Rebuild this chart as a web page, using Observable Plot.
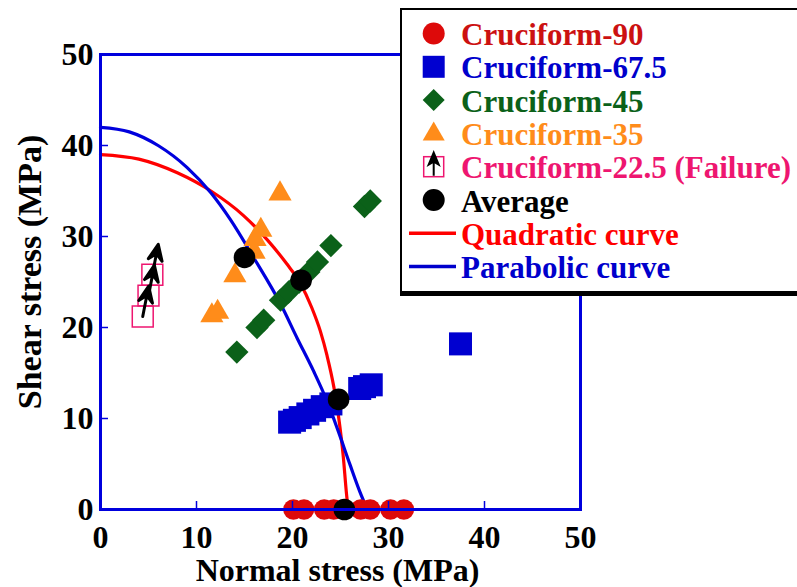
<!DOCTYPE html>
<html><head><meta charset="utf-8">
<script src="https://cdn.jsdelivr.net/npm/d3@7"></script>
<script src="https://cdn.jsdelivr.net/npm/@observablehq/plot@0.6"></script>
<style>
html,body{margin:0;padding:0;background:#fff;overflow:hidden;}
#wrap{position:relative;width:797px;height:587px;overflow:hidden;background:#fff;}
#wrap > svg.plot{position:absolute;left:0;top:0;}
#legend{position:absolute;left:400px;top:8px;width:420px;height:288px;background:#fff;border-top:2px solid #000;border-left:2px solid #000;border-bottom:5px solid #000;box-sizing:border-box;}
</style></head><body><div id="wrap"><div id="legend"></div></div>
<script>
// ---- data ----
const xTicks = [0, 10, 20, 30, 40, 50];
const yTicks = [0, 10, 20, 30, 40, 50];
const xTitle = "Normal stress (MPa)";
const yTitle = "Shear stress (MPa)";

const c90X = [20.1, 21.2, 23.3, 24.3, 27.1, 28.1, 30.2, 31.6];
const c90Y = [0, 0, 0, 0, 0, 0, 0, 0];

const c675X = [19.7, 20.2, 20.8, 21.6, 22.3, 23.1, 24.0, 27.0, 27.5, 28.2, 37.5];
const c675Y = [9.6, 9.8, 10.1, 10.5, 10.9, 11.3, 11.6, 13.3, 13.5, 13.7, 18.2];

const c45X = [14.2, 16.3, 17.0, 18.75, 19.6, 20.7, 21.7, 22.6, 24.0, 27.5, 28.1];
const c45Y = [17.3, 20.0, 20.8, 23.0, 23.9, 25.0, 26.1, 27.2, 29.0, 33.3, 33.9];

const c35X = [11.6, 12.2, 14.0, 16.0, 16.1, 16.7, 18.7];
const c35Y = [21.3, 21.7, 25.7, 28.3, 29.7, 30.7, 34.7];

const c225X = [4.4, 5.0, 5.4];
const c225Y = [21.2, 23.5, 25.8];

const avgX = [25.4, 24.8, 20.9, 15.0];
const avgY = [0, 12.1, 25.2, 27.7];

const quadX = [0, 4.0, 8.0, 11.5, 14.9, 17.4, 19.4, 20.8, 22.0, 22.9, 23.6, 24.3, 24.8, 25.3, 25.6, 25.8];
const quadY = [39.0, 38.5, 37.0, 35.0, 32.3, 29.6, 27.0, 24.9, 22.2, 19.6, 16.9, 13.5, 10.2, 5.7, 2.0, 0];

const paraX = [0, 3.0, 6.0, 9.0, 11.5, 13.5, 16.0, 18.75, 20.5, 22.2, 23.6, 24.7, 26.0, 27.0, 27.8];
const paraY = [42.0, 41.5, 40.0, 37.6, 34.8, 31.9, 27.6, 22.6, 18.8, 15.2, 11.9, 8.8, 4.9, 2.0, 0];

const legendLabels = ["Cruciform-90", "Cruciform-67.5", "Cruciform-45", "Cruciform-35",
  "Cruciform-22.5 (Failure)", "Average", "Quadratic curve", "Parabolic curve"];

// ---- styles ----
const RED = "#dd0a0a", BLUE = "#0000d0", GREEN = "#0b6119", ORANGE = "#ff8c1a", PINK = "#ee1670";
const zip = (xs, ys) => xs.map((x, i) => ({x, y: ys[i]}));

const arrowShape = {
  draw(ctx, l) {
    const h = 16, w = 7;
    ctx.moveTo(0, 0);
    ctx.lineTo(0, -l + h * 0.6);
    ctx.moveTo(0, -l);
    ctx.lineTo(w, -l + h);
    ctx.lineTo(0, -l + h * 0.6);
    ctx.lineTo(-w, -l + h);
    ctx.closePath();
  }
};

const FONT = "'Liberation Serif', 'Times New Roman', Times, serif";

const plot = Plot.plot({
  width: 797, height: 587,
  marginLeft: 100, marginRight: 217, marginTop: 54, marginBottom: 78,
  x: {domain: [0, 50]},
  y: {domain: [0, 50]},
  style: {fontFamily: FONT, fontSize: "32px", fontWeight: "bold", color: "black", background: "transparent", overflow: "visible"},
  marks: [
    Plot.line(zip(quadX, quadY), {x: "x", y: "y", stroke: "#ff0000", strokeWidth: 3.2, curve: "monotone-x"}),
    Plot.line(zip(paraX, paraY), {x: "x", y: "y", stroke: "#0000dd", strokeWidth: 3.2, curve: "monotone-x"}),
    Plot.dot(zip(c90X, c90Y), {x: "x", y: "y", r: 10.3, fill: RED, symbol: "circle"}),
    Plot.dot(zip(c675X, c675Y), {x: "x", y: "y", r: 13, fill: BLUE, symbol: "square"}),
    Plot.dot(zip(c45X, c45Y), {x: "x", y: "y", r: 10.5, fill: GREEN, symbol: "diamond2"}),
    Plot.dot(zip(c35X, c35Y), {x: "x", y: "y", r: 8.6, fill: ORANGE, symbol: "triangle"}),
    Plot.dot(zip(c225X, c225Y), {x: "x", y: "y", r: 11.8, fill: "none", stroke: PINK, strokeWidth: 1.5, symbol: "square"}),
    Plot.vector(zip(c225X, c225Y), {x: "x", y: "y", length: 31, rotate: 11, anchor: "start", shape: arrowShape, stroke: "black", fill: "black", strokeWidth: 3}),
    Plot.dot(zip(avgX, avgY), {x: "x", y: "y", r: 10.8, fill: "black", symbol: "circle"}),
    Plot.frame({stroke: "#0000dd", strokeWidth: 3}),
    Plot.axisX(xTicks, {anchor: "bottom", tickSize: -8, tickPadding: 24, stroke: "#0000dd", strokeWidth: 1.5, fill: "black", label: null}),
    Plot.axisY(yTicks, {anchor: "left", tickSize: -8, tickPadding: 15, stroke: "#0000dd", strokeWidth: 1.5, fill: "black", label: null}),
    Plot.text([xTitle], {text: d => d, frameAnchor: "bottom", textAnchor: "middle", dy: 61, dx: -3, lineAnchor: "middle", fill: "black", fontSize: 32}),
    Plot.text([yTitle], {text: d => d, frameAnchor: "left", textAnchor: "middle", rotate: -90, dx: -70, dy: -10, lineAnchor: "middle", fill: "black", fontSize: 34})
  ]
});
const wrap = document.getElementById("wrap");
wrap.insertBefore(plot, wrap.firstChild);

// ---- legend ----
const legendColors = ["#cc1111", "#0000cc", GREEN, ORANGE, PINK, "black", "#ff0000", "#0000cc"];
const lg = d3.select("#legend").append("svg").attr("width", 420).attr("height", 290)
  .style("position", "absolute").style("left", "-2px").style("top", "-2px")
  .attr("font-family", FONT).attr("font-weight", "bold").attr("font-size", 31);
const rowY = i => 25.5 + i * 33.3;
const mx = 33.7;
legendLabels.forEach((lab, i) => {
  const cy = rowY(i);
  lg.append("text").attr("x", 61).attr("y", cy + 11.5).attr("fill", legendColors[i]).text(lab);
});
lg.append("circle").attr("cx", mx).attr("cy", rowY(0)).attr("r", 11).attr("fill", RED);
lg.append("rect").attr("x", mx - 11).attr("y", rowY(1) - 11).attr("width", 22).attr("height", 22).attr("fill", BLUE);
lg.append("path").attr("d", `M${mx},${rowY(2) - 11}L${mx + 11},${rowY(2)}L${mx},${rowY(2) + 11}L${mx - 11},${rowY(2)}Z`).attr("fill", GREEN);
lg.append("path").attr("d", `M${mx},${rowY(3) - 12}L${mx + 11},${rowY(3) + 7}L${mx - 11},${rowY(3) + 7}Z`).attr("fill", ORANGE);
lg.append("rect").attr("x", mx - 10).attr("y", rowY(4) - 10).attr("width", 20).attr("height", 20).attr("fill", "none").attr("stroke", PINK).attr("stroke-width", 1.5);
lg.append("path").attr("d", `M${mx},${rowY(4) + 9}L${mx},${rowY(4) - 4}M${mx},${rowY(4) - 14}L${mx + 5},${rowY(4) - 2}L${mx},${rowY(4) - 5}L${mx - 5},${rowY(4) - 2}Z`).attr("fill", "black").attr("stroke", "black").attr("stroke-width", 2);
lg.append("circle").attr("cx", mx).attr("cy", rowY(5)).attr("r", 11).attr("fill", "black");
lg.append("line").attr("x1", 9).attr("x2", 56).attr("y1", rowY(6)).attr("y2", rowY(6)).attr("stroke", "#ff0000").attr("stroke-width", 3.5);
lg.append("line").attr("x1", 9).attr("x2", 56).attr("y1", rowY(7)).attr("y2", rowY(7)).attr("stroke", "#0000cc").attr("stroke-width", 3.5);
</script>
</body></html>
